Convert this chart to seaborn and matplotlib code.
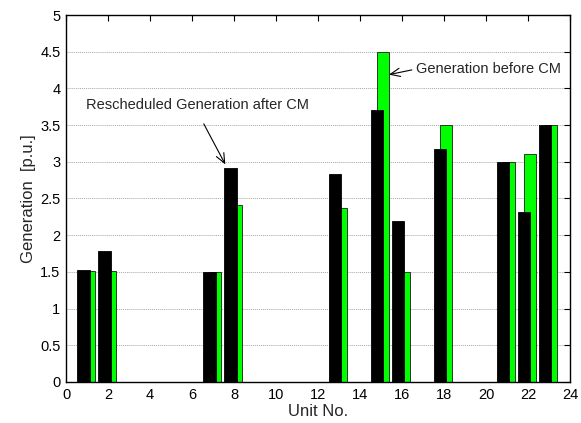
import pandas as pd
import matplotlib
matplotlib.use("Agg")
import matplotlib.pyplot as plt
import seaborn as sns

sns.set_style("white")
plt.rcParams['font.family'] = ['Liberation Sans', 'DejaVu Sans']

## data ##
units = [1, 2, 7, 8, 13, 15, 16, 18, 21, 22, 23]
after_cm = [1.52, 1.78, 1.50, 2.91, 2.84, 3.71, 2.19, 3.18, 3.00, 2.31, 3.50]
before_cm = [1.51, 1.51, 1.50, 2.41, 2.37, 4.50, 1.50, 3.50, 3.00, 3.11, 3.50]

df = pd.DataFrame({'Unit': units, 'After': after_cm, 'Before': before_cm})
df['x_after'] = df['Unit'] - 0.18
df['x_before'] = df['Unit'] + 0.10

fig = plt.figure(figsize=(5.81, 4.23), dpi=100)
ax = fig.add_axes([0.1136, 0.097, 0.8674, 0.8675])

# green (before) first, black (after) on top
sns.barplot(data=df, x='x_before', y='Before', native_scale=True, width=0.56,
            color='#00ff00', saturation=1, edgecolor='#1a1a1a', linewidth=0.6, ax=ax)
sns.barplot(data=df, x='x_after', y='After', native_scale=True, width=0.6,
            color='black', saturation=1, edgecolor='black', linewidth=0.6, ax=ax)

ax.set_xlim(0, 24)
ax.set_ylim(0, 5)
ax.set_xticks(range(0, 25, 2))
ax.set_xticklabels([str(v) for v in range(0, 25, 2)])
ax.set_yticks([i * 0.5 for i in range(11)])
ax.set_yticklabels(['0', '0.5', '1', '1.5', '2', '2.5', '3', '3.5', '4', '4.5', '5'])
ax.yaxis.grid(True, linestyle=(0, (1, 1)), color='#a6a6a6', linewidth=0.7)
ax.set_axisbelow(True)
ax.tick_params(direction='in', top=True, right=True, length=4, width=0.8,
               labelsize=10.5, colors='black', pad=4)
for s in ax.spines.values():
    s.set_visible(True)
    s.set_color('black')
    s.set_linewidth(1.0)

ax.set_xlabel('Unit No.', fontsize=12, labelpad=2)
ax.set_ylabel('Generation  [p.u.]', fontsize=12, labelpad=3)

arrow = dict(arrowstyle='->,head_length=0.7,head_width=0.3', color='black', lw=0.8)
ax.annotate('', xy=(15.25, 4.18), xytext=(16.6, 4.26), arrowprops=arrow)
ax.text(16.65, 4.26, 'Generation before CM', fontsize=10.5, va='center', ha='left')

ax.annotate('', xy=(7.65, 2.93), xytext=(6.5, 3.55), arrowprops=arrow)
ax.text(0.95, 3.77, 'Rescheduled Generation after CM', fontsize=10.5, va='center', ha='left')

fig.savefig('out.png', dpi=100)
